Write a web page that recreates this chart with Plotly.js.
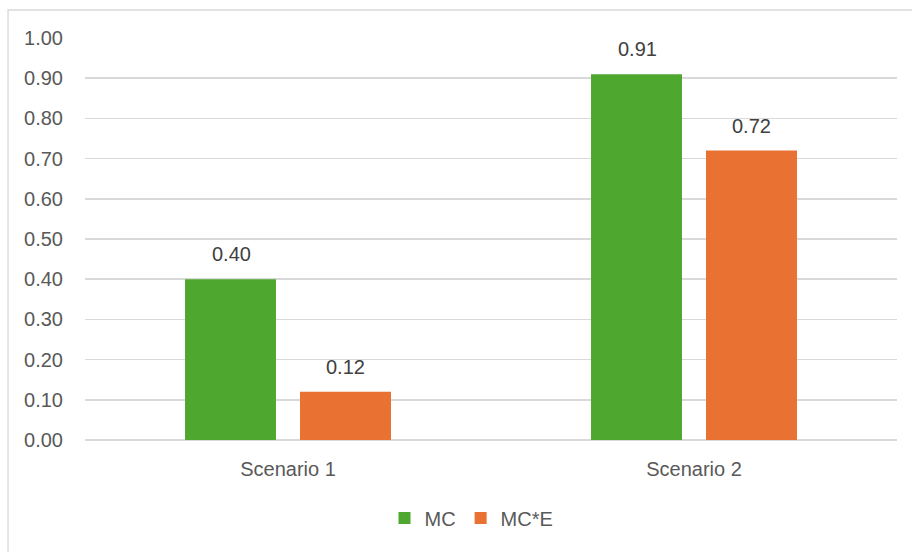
<!DOCTYPE html>
<html>
<head>
<meta charset="utf-8">
<script src="https://cdn.plot.ly/plotly-3.0.1.min.js"></script>
<style>
html,body{margin:0;padding:0;background:#fff;}
#chart{width:912px;height:552px;}
</style>
</head>
<body>
<div id="chart"></div>
<script>
const categories = ["Scenario 1", "Scenario 2"];
const seriesNames = ["MC", "MC*E"];
const mcValues = [0.40, 0.91];
const mceValues = [0.12, 0.72];
const yTickValues = [0, 0.1, 0.2, 0.3, 0.4, 0.5, 0.6, 0.7, 0.8, 0.9, 1.0];

const green = "#4EA72E";
const orange = "#E97132";
const textColor = "#595959";
const fontFamily = "Liberation Sans, Arial, sans-serif";

const traces = [
  {type: "bar", name: seriesNames[0], x: categories, y: mcValues, marker: {color: green}, hoverinfo: "none"},
  {type: "bar", name: seriesNames[1], x: categories, y: mceValues, marker: {color: orange}, hoverinfo: "none"}
];

const annotations = [];
[mcValues, mceValues].forEach((vals, si) => {
  vals.forEach((v, i) => {
    annotations.push({
      x: categories[i], y: v, xref: "x", yref: "y",
      text: v.toFixed(2), showarrow: false,
      xanchor: "center", yanchor: "bottom",
      xshift: si === 0 ? -57 : 57, yshift: 12,
      font: {family: fontFamily, size: 20, color: "#404040"}
    });
  });
});

const layout = {
  width: 912, height: 552,
  margin: {l: 85, r: 15, t: 38, b: 112},
  paper_bgcolor: "#ffffff", plot_bgcolor: "rgba(0,0,0,0)",
  barmode: "group", bargap: 0.4335, bargroupgap: 0.209,
  font: {family: fontFamily, color: textColor, size: 20},
  showlegend: true,
  legend: {orientation: "h", x: 0.476, xanchor: "center", y: -0.194, yanchor: "middle",
           font: {family: fontFamily, size: 20, color: textColor}, itemwidth: 30, tracegroupgap: 0},
  xaxis: {type: "category", showgrid: false, zeroline: false, showline: false, ticks: "",
          tickfont: {family: fontFamily, size: 20, color: textColor}, ticklabelstandoff: 15, fixedrange: true},
  yaxis: {range: [0, 1], tickvals: yTickValues, tickformat: ".2f", showgrid: true, gridcolor: "#D9D9D9", gridwidth: 1.5,
          zeroline: true, zerolinecolor: "#D9D9D9", zerolinewidth: 1.5, showline: false, ticks: "",
          tickfont: {family: fontFamily, size: 20, color: textColor}, ticklabelstandoff: 21, fixedrange: true},
  annotations: annotations,
  shapes: [{type: "rect", xref: "paper", yref: "paper", x0: -0.0948, x1: 1.2, y0: -0.5, y1: 1.0697,
            line: {color: "#D9D9D9", width: 1.3}, fillcolor: "rgba(0,0,0,0)", layer: "below"}]
};

Plotly.newPlot("chart", traces, layout, {displayModeBar: false, staticPlot: true});
</script>
</body>
</html>
